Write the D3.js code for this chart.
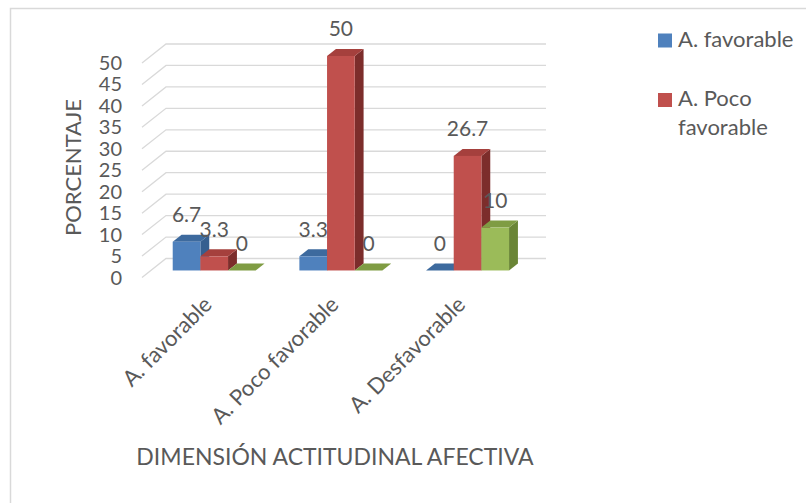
<!DOCTYPE html>
<html lang="es">
<head>
<meta charset="utf-8">
<title>Dimensión actitudinal afectiva</title>
<script src="https://d3js.org/d3.v7.min.js"></script>
<style>
  body { margin: 0; background: #fff; }
  text { font-family: Lato, "Noto Sans", sans-serif; fill: #595959; }
</style>
</head>
<body>
<script>
// datos
var categories = ["A. favorable", "A. Poco favorable", "A. Desfavorable"];
var seriesNames = ["A. favorable", "A. Poco favorable", "A. Desfavorable"];
var favorable = [6.7, 3.3, 0];
var pocoFavorable = [3.3, 50, 26.7];
var desfavorable = [0, 0, 10];
var yTicks = [0, 5, 10, 15, 20, 25, 30, 35, 40, 45, 50];

var values = [favorable, pocoFavorable, desfavorable];
var colors = [
  {front: "#4f81bd", top: "#3d6a9e", side: "#365f8f"},
  {front: "#c0504d", top: "#a5403d", side: "#7c2d2b"},
  {front: "#9bbb59", top: "#7f9c43", side: "#6a8536"}
];

var W = 806, H = 503;
var svg = d3.select("body").append("svg")
    .attr("width", W).attr("height", H);

// marco
svg.append("path")
    .attr("d", "M10.5," + H + " V8.5 H" + W)
    .attr("fill", "none").attr("stroke", "#d9d9d9").attr("stroke-width", 1.5);

// pared del fondo y profundidad
var wallL = 166, wallR = 546;
var depthX = -24, depthY = 19;   // de la pared al frente
var y = d3.scaleLinear().domain([0, 50]).range([258.5, 44]);
var x0 = d3.scaleBand().domain(categories).range([wallL, wallR]);
var groupW = 83;
var x1 = d3.scaleBand().domain(seriesNames)
    .range([x0.bandwidth() / 2 - groupW / 2, x0.bandwidth() / 2 + groupW / 2]);

function px(x, z) { return x + depthX * z; }
function py(yy, z) { return yy + depthY * z; }

// lineas de cuadricula
var grid = svg.append("g").attr("stroke", "#d9d9d9").attr("stroke-width", 1.3).attr("fill", "none");
yTicks.forEach(function(t) {
  grid.append("path")
    .attr("d", "M" + px(wallL, 1) + "," + py(y(t), 1) + " L" + wallL + "," + y(t) + " H" + wallR);
});

// etiquetas eje y (plano frontal)
svg.append("g").selectAll("text").data(yTicks).enter().append("text")
    .attr("x", 122)
    .attr("y", function(d) { return py(y(d), 1); })
    .attr("dy", "0.35em")
    .attr("text-anchor", "end")
    .style("font-size", "20px")
    .text(function(d) { return d; });

// barras 3d
var zF = 0.63, zB = 0.26;
var bw = x1.bandwidth();
var bars = [];
categories.forEach(function(c, i) {
  seriesNames.forEach(function(s, j) {
    bars.push({cat: c, ser: s, j: j, v: values[j][i]});
  });
});

var g = svg.append("g");
bars.forEach(function(b) {
  var xl = x0(b.cat) + x1(b.ser);
  var xr = xl + bw;
  var yt = y(b.v), yb = y(0);
  var col = colors[b.j];
  var fl = px(xl, zF), fr = px(xr, zF), bl = px(xl, zB), br = px(xr, zB);
  var ft = py(yt, zF), fb = py(yb, zF), bt = py(yt, zB), bb = py(yb, zB);
  // lado
  g.append("path")
    .attr("d", "M" + fr + "," + ft + " L" + br + "," + bt + " L" + br + "," + bb + " L" + fr + "," + fb + "Z")
    .attr("fill", col.side);
  // tapa
  g.append("path")
    .attr("d", "M" + fl + "," + ft + " L" + fr + "," + ft + " L" + br + "," + bt + " L" + bl + "," + bt + "Z")
    .attr("fill", col.top);
  // frente
  if (b.v > 0) {
    g.append("rect")
      .attr("x", fl).attr("y", ft)
      .attr("width", bw).attr("height", fb - ft)
      .attr("fill", col.front);
  }
  b.lx = (fl + fr) / 2;
  b.ly = ft - 19.5;
});

// etiquetas de datos
svg.append("g").selectAll("text").data(bars).enter().append("text")
    .attr("x", function(d) { return d.lx; })
    .attr("y", function(d) { return d.ly; })
    .attr("text-anchor", "middle")
    .style("font-size", "21px")
    .text(function(d) { return d.v; });

// etiquetas de categoria
svg.append("g").selectAll("text").data(categories).enter().append("text")
    .attr("transform", function(d) {
      var cx = px(x0(d) + x0.bandwidth() / 2, 1) + 8;
      return "translate(" + cx + ",306) rotate(-45)";
    })
    .attr("text-anchor", "end")
    .style("font-size", "22px")
    .text(function(d) { return d; });

// titulos de ejes
svg.append("text")
    .attr("x", 335).attr("y", 465)
    .attr("text-anchor", "middle")
    .style("font-size", "23px")
    .text("DIMENSIÓN ACTITUDINAL AFECTIVA");

svg.append("text")
    .attr("transform", "translate(81,167.5) rotate(-90)")
    .attr("text-anchor", "middle")
    .style("font-size", "22px")
    .text("PORCENTAJE");

// leyenda
var legend = svg.append("g");
legend.append("rect").attr("x", 658).attr("y", 33.5).attr("width", 14).attr("height", 14).attr("fill", colors[0].front);
legend.append("text").attr("x", 678).attr("y", 47).style("font-size", "22px").text("A. favorable");
legend.append("rect").attr("x", 658).attr("y", 93).attr("width", 14).attr("height", 14).attr("fill", colors[1].front);
legend.append("text").attr("x", 678).attr("y", 106).style("font-size", "22px").text("A. Poco");
legend.append("text").attr("x", 678).attr("y", 135).style("font-size", "22px").text("favorable");
</script>
</body>
</html>
